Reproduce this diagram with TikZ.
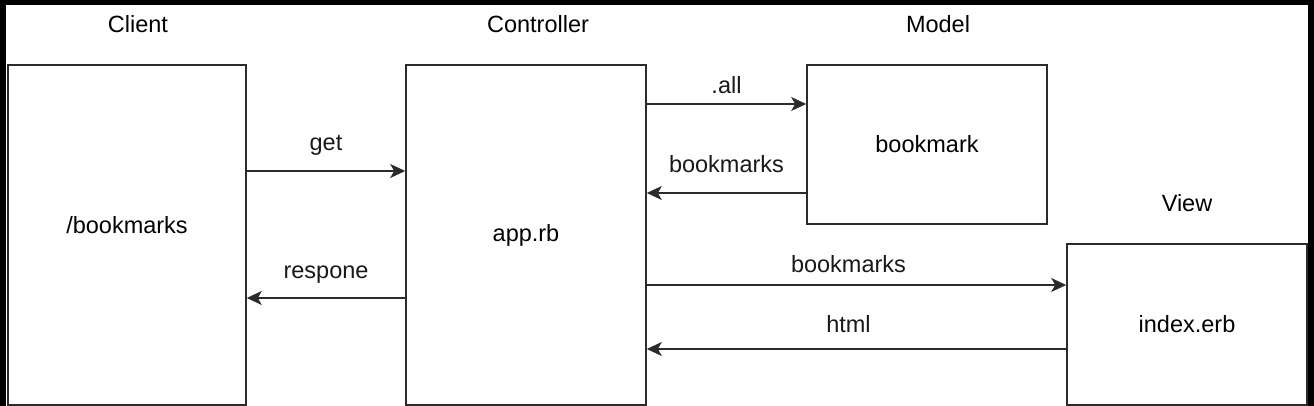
\documentclass[tikz,border=0pt]{standalone}
\usepackage{fontspec}
\setmainfont{Liberation Sans}
\usetikzlibrary{arrows.meta,positioning}
\definecolor{edgegray}{HTML}{2B2B2B}

\begin{document}
\begin{tikzpicture}[
    x=1pt, y=1pt,
    font=\fontsize{23.5}{28}\selectfont,
    box/.style={draw=edgegray, line width=1.6pt, fill=white, minimum width=240pt, align=center},
    title/.style={inner sep=0pt},
    arr/.style={-{Stealth[length=15pt, width=14pt, inset=4pt]}, line width=1.6pt, edgegray},
    lbl/.style={inner sep=0pt, text=black!90}
]

% --- dark frame round the page ---
\fill[black] (0,0) rectangle (1314,406);
\fill[white] (6,0) rectangle (1308,401);
\useasboundingbox (0,0) rectangle (1314,406);

% --- boxes ---
\node[box, minimum width=238pt, minimum height=340pt,
      label={[yshift=10pt]center:/bookmarks}] (client) at (127,171) {};
\node[box, minimum height=340pt] (ctrl)  at (526,171)   {app.rb};
\node[box, minimum height=159pt] (model) at (927,261.5) {bookmark};
\node[box, minimum height=161pt] (view)  at (1187,81.5) {\raisebox{-5pt}{index.erb}};

% --- titles ---
\node[title, above=31pt of client.north, xshift=11pt] {Client};
\node[title, above=31pt of ctrl.north, xshift=12pt]   {Controller};
\node[title, above=31pt of model.north, xshift=11pt]  {Model};
\node[title, above=31pt of view.north]                {View};

% --- client <-> controller ---
\draw[arr] ([yshift=64pt]client.east) -- ([yshift=64pt]ctrl.west)
    node[lbl, midway, above=14.5pt] {get};
\draw[arr] ([yshift=-63pt]ctrl.west) -- ([yshift=-63pt]client.east)
    node[lbl, midway, above=13.5pt] {respone};

% --- controller <-> model ---
\draw[arr] ([yshift=131pt]ctrl.east) -- ([yshift=40.5pt]model.west)
    node[lbl, midway, above=9.5pt] {.all};
\draw[arr] ([yshift=-48.5pt]model.west) -- ([yshift=42pt]ctrl.east)
    node[lbl, midway, above=19.5pt] {bookmarks};

% --- controller <-> view ---
\draw[arr] ([yshift=-50pt]ctrl.east) -- ([yshift=39.5pt]view.west)
    node[lbl, midway, above=11.5pt, xshift=-8pt] {bookmarks};
\draw[arr] ([yshift=-24.5pt]view.west) -- ([yshift=-114pt]ctrl.east)
    node[lbl, midway, above=15.5pt, xshift=-8pt] {html};

\end{tikzpicture}
\end{document}
